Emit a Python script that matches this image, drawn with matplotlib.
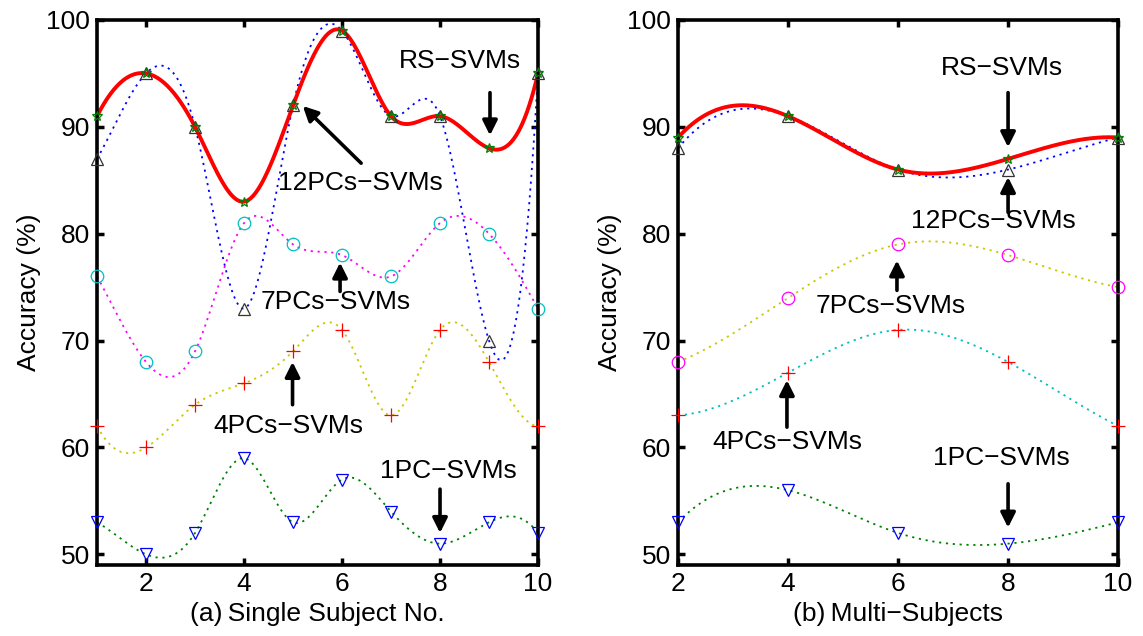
import numpy as np
import matplotlib
matplotlib.use("Agg")
import matplotlib.pyplot as plt

plt.rcParams['font.family'] = ['Liberation Sans', 'DejaVu Sans']

# ---------------- data ----------------
subjects_a = [1, 2, 3, 4, 5, 6, 7, 8, 9, 10]
rs_a = [91, 95, 90, 83, 92, 99, 91, 91, 88, 95]
pc12_a = [87, 95, 90, 73, 92, 99, 91, 91, 70, 95]
pc7_a = [76, 68, 69, 81, 79, 78, 76, 81, 80, 73]
pc4_a = [62, 60, 64, 66, 69, 71, 63, 71, 68, 62]
pc1_a = [53, 50, 52, 59, 53, 57, 54, 51, 53, 52]

subjects_b = [2, 4, 6, 8, 10]
rs_b = [89, 91, 86, 87, 89]
pc12_b = [88, 91, 86, 86, 89]
pc7_b = [68, 74, 79, 78, 75]
pc4_b = [63, 67, 71, 68, 62]
pc1_b = [53, 56, 52, 51, 53]

xticks_a = [2, 4, 6, 8, 10]
xticks_b = [2, 4, 6, 8, 10]
yticks = [50, 60, 70, 80, 90, 100]
labels = ["RS\u2212SVMs", "12PCs\u2212SVMs", "7PCs\u2212SVMs", "4PCs\u2212SVMs", "1PC\u2212SVMs"]


def spline_nak(x, y, xs):
    """Not-a-knot cubic spline (like MATLAB spline) evaluated at xs."""
    x = np.asarray(x, float); y = np.asarray(y, float)
    n = len(x); m = n - 1
    A = np.zeros((4 * m, 4 * m)); b = np.zeros(4 * m)
    r = 0
    for i in range(m):
        h = x[i + 1] - x[i]
        A[r, 4 * i] = 1; b[r] = y[i]; r += 1
        A[r, 4 * i:4 * i + 4] = [1, h, h ** 2, h ** 3]; b[r] = y[i + 1]; r += 1
    for i in range(m - 1):
        h = x[i + 1] - x[i]
        A[r, 4 * i:4 * i + 4] = [0, 1, 2 * h, 3 * h ** 2]; A[r, 4 * (i + 1) + 1] = -1; r += 1
        A[r, 4 * i:4 * i + 4] = [0, 0, 2, 6 * h]; A[r, 4 * (i + 1) + 2] = -2; r += 1
    A[r, 3] = 1; A[r, 7] = -1; r += 1
    A[r, 4 * (m - 2) + 3] = 1; A[r, 4 * (m - 1) + 3] = -1; r += 1
    c = np.linalg.solve(A, b)
    idx = np.clip(np.searchsorted(x, xs, side='right') - 1, 0, m - 1)
    t = xs - x[idx]
    return c[4 * idx] + c[4 * idx + 1] * t + c[4 * idx + 2] * t ** 2 + c[4 * idx + 3] * t ** 3


FS = 19
fig = plt.figure(figsize=(11.43, 6.36), dpi=100)
axA = fig.add_axes([0.0849, 0.1116, 0.3858, 0.857])
axB = fig.add_axes([0.5932, 0.1116, 0.3850, 0.857])

dot = (0, (1.2, 2.6))
YEL = '#c8c800'
GRN = '#008000'


def draw(ax, xs, series):
    xf = np.linspace(xs[0], xs[-1], 400)
    for vals, lcol, ls, lw, mk, mcol, ms in series:
        ax.plot(xf, spline_nak(xs, vals, xf), color=lcol, linestyle=ls, lw=lw, zorder=2)
    for vals, lcol, ls, lw, mk, mcol, ms in series:
        ax.plot(xs, vals, linestyle='none', marker=mk, ms=ms, mec=mcol,
                mfc='none', mew=0.9, clip_on=False, zorder=3)


seriesA = [
    (pc12_a, 'blue', dot, 1.3, '^', '#333333', 9),
    (rs_a, 'red', '-', 2.8, '*', GRN, 7),
    (pc7_a, 'magenta', dot, 1.3, 'o', 'c', 9),
    (pc4_a, YEL, dot, 1.3, '+', 'red', 10),
    (pc1_a, GRN, dot, 1.3, 'v', 'blue', 9),
]
seriesB = [
    (pc12_b, 'blue', dot, 1.3, '^', '#333333', 9),
    (rs_b, 'red', '-', 2.8, '*', GRN, 7),
    (pc7_b, YEL, dot, 1.3, 'o', 'magenta', 9),
    (pc4_b, 'c', dot, 1.3, '+', 'red', 10),
    (pc1_b, GRN, dot, 1.3, 'v', 'blue', 9),
]
draw(axA, subjects_a, seriesA)
draw(axB, subjects_b, seriesB)

arrow = dict(arrowstyle='-|>', lw=2.6, color='k', mutation_scale=22,
             shrinkA=0, shrinkB=0)

# (text, text xy, arrow tail, arrow tip)
annA = [
    (labels[0], (8.41, 96.2), (9.02, 93.2), (9.02, 89.2)),
    (labels[1], (6.37, 84.75), (6.39, 86.6), (5.2, 91.95)),
    (labels[2], (5.88, 73.6), (5.96, 74.6), (5.96, 77.3)),
    (labels[3], (4.9, 62.0), (4.99, 64.0), (4.99, 68.0)),
    (labels[4], (8.18, 57.8), (8.0, 56.1), (8.0, 52.0)),
]
annB = [
    (labels[0], (7.89, 95.5), (8.0, 93.2), (8.0, 88.1)),
    (labels[1], (7.74, 81.2), (8.0, 82.0), (8.0, 85.3)),
    (labels[2], (5.87, 73.2), (5.98, 74.7), (5.98, 77.5)),
    (labels[3], (3.98, 60.5), (3.98, 61.9), (3.98, 66.3)),
    (labels[4], (7.87, 59.0), (8.0, 56.6), (8.0, 52.5)),
]
for ax, anns in ((axA, annA), (axB, annB)):
    for txt, txy, tail, tip in anns:
        ax.annotate('', xy=tip, xytext=tail, arrowprops=arrow, zorder=5)
        ax.text(txy[0], txy[1], txt, fontsize=FS, ha='center', va='center', zorder=6)

axA.set_xlim(1, 10)
axB.set_xlim(2, 10)
axA.set_xticks(xticks_a)
axB.set_xticks(xticks_b)
axA.set_xlabel('(a)\u2009Single Subject No.', fontsize=FS, labelpad=4)
axB.set_xlabel('(b)\u2009Multi\u2212Subjects', fontsize=FS, labelpad=4)
for ax in (axA, axB):
    ax.set_ylim(49, 100)
    ax.set_yticks(yticks)
    ax.set_ylabel('Accuracy (%)', fontsize=FS, labelpad=4)
    ax.tick_params(direction='in', length=5, width=2.5, labelsize=FS,
                   top=True, right=True, pad=5)
    for s in ax.spines.values():
        s.set_linewidth(2.6)

fig.savefig('out.png', dpi=100)
